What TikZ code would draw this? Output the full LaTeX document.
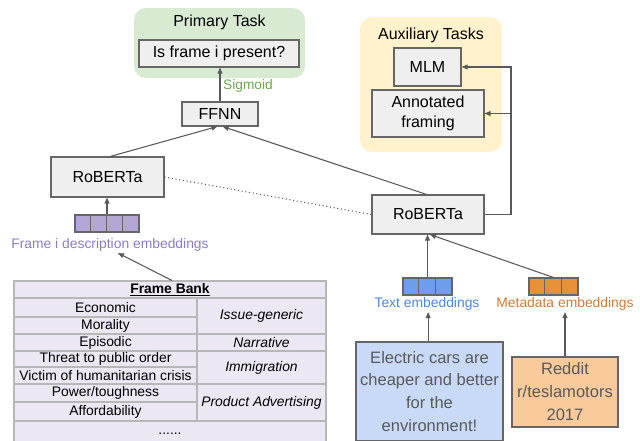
\documentclass[tikz,border=0pt]{standalone}
\usepackage{fontspec}
\setmainfont{Liberation Sans}
\usetikzlibrary{arrows.meta}

\definecolor{linegray}{HTML}{595959}
\definecolor{boxline}{HTML}{666666}
\definecolor{boxfill}{HTML}{EFEFEF}
\definecolor{taskgreen}{HTML}{D9EAD3}
\definecolor{taskyellow}{HTML}{FFF2CC}
\definecolor{sigmoidgreen}{HTML}{6AA84F}
\definecolor{embpurple}{HTML}{B4A7D6}
\definecolor{txtpurple}{HTML}{8E7CC3}
\definecolor{embblue}{HTML}{6D9EEB}
\definecolor{txtblue}{HTML}{4A86E8}
\definecolor{emborange}{HTML}{E69138}
\definecolor{txtorange}{HTML}{D07B30}
\definecolor{postblue}{HTML}{C9DAF8}
\definecolor{postorange}{HTML}{F9CB9C}
\definecolor{bankfill}{HTML}{EBE8F4}
\definecolor{bankline}{HTML}{B7B7B7}
\definecolor{posttext}{HTML}{595959}

\begin{document}
\begin{tikzpicture}[x=0.75pt,y=-0.75pt,
  line/.style={draw=linegray, line width=0.8pt},
  arr/.style={line, -{Triangle[length=4.5pt,width=3.6pt]}},
  box/.style={draw=boxline, fill=boxfill, line width=0.8pt, inner sep=0pt,
    font=\fontsize{12}{15}\selectfont, align=center},
  taskbg/.style={rounded corners=9pt, inner sep=0pt},
  tasktitle/.style={font=\fontsize{12}{15}\selectfont, inner sep=0pt},
  lbl/.style={font=\fontsize{10.4}{12}\selectfont, inner sep=1pt},
  cell/.style={font=\fontsize{10.4}{12}\selectfont, inner sep=0pt},
  emb/.style={draw=boxline, line width=0.8pt, minimum height=12.75pt, inner sep=0pt},
  post/.style={draw=boxline, line width=0.8pt, inner sep=0pt, align=center,
    text=posttext, font=\fontsize{12.4}{17.2}\selectfont},
  bankrule/.style={draw=bankline, line width=0.8pt},
]
\clip (0,0) rectangle (640,440);
\useasboundingbox (0,0) rectangle (640,440);

% task groups
\node[taskbg, fill=taskgreen, minimum width=128.25pt, minimum height=52.5pt] (primary) at (219.5,43) {};
\node[tasktitle] (primarytitle) at (219.5,22) {Primary Task};
\node[box, minimum width=120pt, minimum height=20.25pt] (present) at (219,53.5) {Is frame i present?};

\node[taskbg, fill=taskyellow, minimum width=106.5pt, minimum height=101.25pt] (aux) at (431,84.5) {};
\node[tasktitle] (auxtitle) at (431,35) {Auxiliary Tasks};
\node[box, minimum width=50.25pt, minimum height=28.5pt] (mlm) at (427.5,67) {MLM};
\node[box, minimum width=84pt, minimum height=35.25pt] (annot) at (428,113.5) {Annotated\\framing};

% model
\node[box, minimum width=57pt, minimum height=18pt] (ffnn) at (220,114) {FFNN};
\node[box, minimum width=84.75pt, minimum height=30pt] (rob1) at (107.5,177) {RoBERTa};
\node[box, minimum width=84pt, minimum height=29.25pt] (rob2) at (428,214.5) {RoBERTa};

% embeddings
\node[emb, fill=embpurple, minimum width=48pt] (pemb) at (107,223.5) {};
\foreach \i in {1,2,3}
  \draw[boxline, line width=0.8pt] ([xshift=\i*12pt]pemb.north west) -- ([xshift=\i*12pt]pemb.south west);
\node[lbl, text=txtpurple] (plabel) at (110,245) {Frame i description embeddings};

\node[emb, fill=embblue, minimum width=36.75pt] (bemb) at (427.5,286.5) {};
\foreach \i in {1,2}
  \draw[boxline, line width=0.8pt] ([xshift=\i*12.25pt]bemb.north west) -- ([xshift=\i*12.25pt]bemb.south west);
\node[lbl, text=txtblue] (blabel) at (427,304) {Text embeddings};

\node[emb, fill=emborange, minimum width=36.75pt] (oemb) at (553.5,286.5) {};
\foreach \i in {1,2}
  \draw[boxline, line width=0.8pt] ([xshift=\i*12.25pt]oemb.north west) -- ([xshift=\i*12.25pt]oemb.south west);
\node[lbl, text=txtorange] (olabel) at (565,304) {Metadata embeddings};

% inputs
\node[post, fill=postblue, minimum width=110.25pt, minimum height=74.25pt] (text) at (429.5,391.5)
  {Electric cars are\\cheaper and better\\for the\\environment!};
\node[post, fill=postorange, minimum width=79.5pt, minimum height=52.5pt] (reddit) at (565,392)
  {Reddit\\r/teslamotors\\2017};

% frame bank table
\node[bankrule, fill=bankfill, minimum width=234pt, minimum height=126.75pt, inner sep=0pt] (bank) at (170,365.5) {};
\draw[bankrule] (14,298) -- (326,298);
\draw[bankrule] (14,317) -- (197,317);
\draw[bankrule] (14,334) -- (326,334);
\draw[bankrule] (14,351) -- (326,351);
\draw[bankrule] (14,367) -- (197,367);
\draw[bankrule] (14,384) -- (326,384);
\draw[bankrule] (14,402) -- (197,402);
\draw[bankrule] (14,421) -- (326,421);
\draw[bankrule] (197,298) -- (197,421);
\node[cell] (bankhead) at (170,289.5) {\underline{\textbf{Frame Bank}}};
\node[cell] (economic) at (105.5,307.5) {Economic};
\node[cell] (morality) at (105.5,325.5) {Morality};
\node[cell] (episodic) at (105.5,342.5) {Episodic};
\node[cell] (threat) at (105.5,359) {Threat to public order};
\node[cell] (victim) at (105.5,375.5) {Victim of humanitarian crisis};
\node[cell] (power) at (105.5,393) {Power/toughness};
\node[cell] (afford) at (105.5,411.5) {Affordability};
\node[cell] (more) at (170,433.5) {......};
\node[cell] (issue) at (261.5,316) {\itshape Issue-generic};
\node[cell] (narrative) at (261.5,342.5) {\itshape Narrative};
\node[cell] (immig) at (261.5,367.5) {\itshape Immigration};
\node[cell] (advert) at (261.5,402.5) {\itshape Product Advertising};

% connectors
\draw[arr] (ffnn.north) -- (ffnn.north |- present.south)
  node[pos=0.45, right, inner sep=2pt, text=sigmoidgreen, font=\fontsize{10.3}{12}\selectfont] (sigmoid) {Sigmoid};
\draw[arr] ([xshift=2pt]rob1.north) -- ([xshift=-2pt]ffnn.south);
\draw[arr] ([xshift=-1pt]rob2.north) -- ([xshift=2pt]ffnn.south);
\draw[arr] (pemb.north) -- (pemb.north |- rob1.south);
\draw[arr] ([xshift=1.5pt]bank.north) -- ([xshift=6pt]plabel.south);
\draw[arr] (bemb.north) -- (bemb.north |- rob2.south);
\draw[arr] (oemb.north) -- ([xshift=1.5pt]rob2.south);
\draw[arr] ([xshift=-1pt]text.north) -- ([xshift=-1pt]text.north |- blabel.south);
\draw[arr] (reddit.north) -- (reddit.north |- olabel.south);

\coordinate (rail) at (511,214.5);
\draw[arr] (rob2.east) -- (rail) |- (mlm.east);
\draw[arr] (rail |- annot.east) -- (annot.east);

\draw[linegray, line width=0.8pt, dash pattern=on 0.8pt off 2pt] (rob1.east) -- (rob2.west);
\end{tikzpicture}
\end{document}
